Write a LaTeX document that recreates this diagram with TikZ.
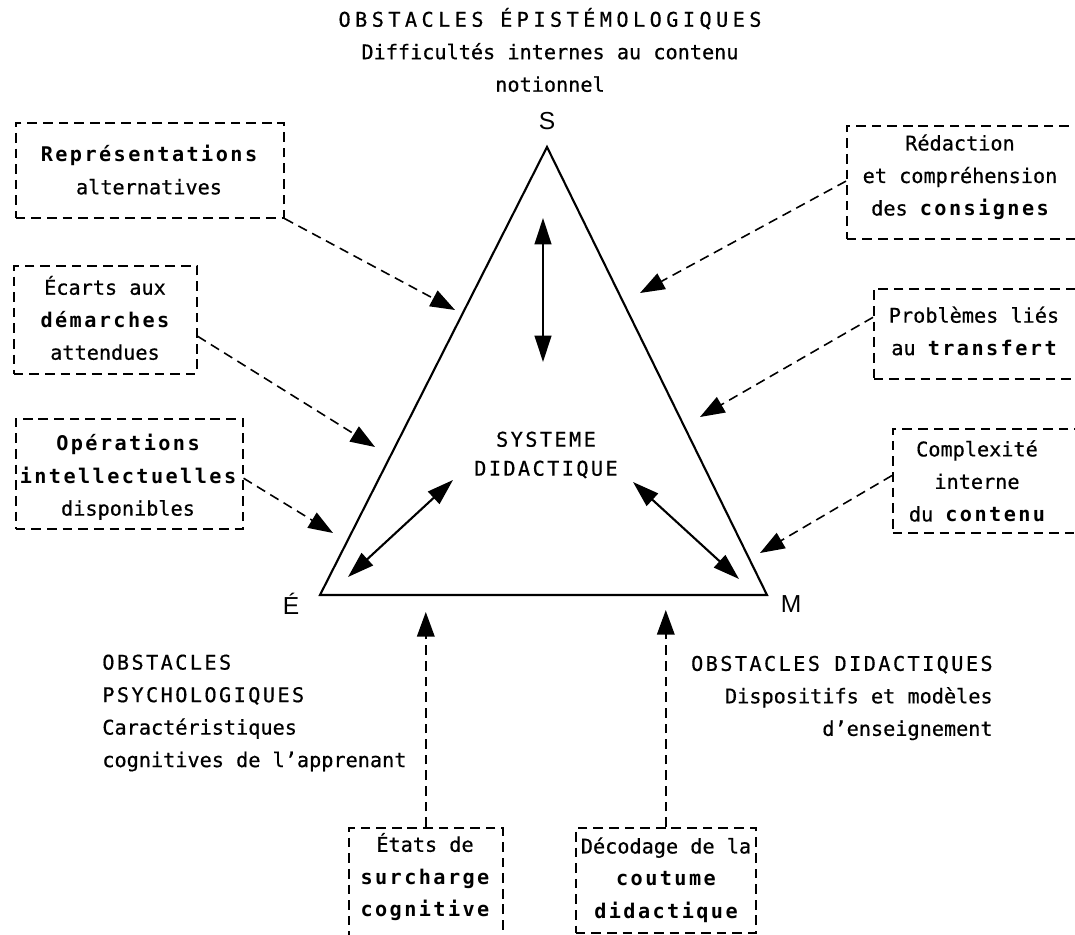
\documentclass[tikz,border=0pt]{standalone}
\usepackage{fontspec}
\usetikzlibrary{arrows.meta,calc}
\newfontfamily\mono[FakeBold=0.6]{DejaVu Sans Mono}
\newfontfamily\monocap[LetterSpace=12,FakeBold=0.6]{DejaVu Sans Mono}
\newfontfamily\monowide[LetterSpace=22,FakeBold=0.6]{DejaVu Sans Mono}
\newfontfamily\monob[LetterSpace=12]{DejaVu Sans Mono}
\newfontfamily\arialf{Liberation Sans}
\newcommand\bw[1]{{\monob\bfseries #1}}
\newcommand\cw[1]{{\monocap #1}}
\tikzset{
  dbox/.style={draw, line width=0.9pt, dash pattern=on 5.5pt off 3.4pt, inner sep=0pt, anchor=north west},
  txt/.style={align=center, inner sep=0pt, font=\mono\fontsize{11.5}{18.5}\selectfont},
  darr/.style={line width=0.9pt, dash pattern=on 5.5pt off 3.4pt, -{Triangle[length=14pt,width=10pt]}},
  sarr/.style={line width=1.2pt, {Triangle[length=15pt,width=9.5pt]}-{Triangle[length=15pt,width=9.5pt]}},
  tri/.style={line width=1.2pt, line join=miter},
  corner/.style={font=\arialf\fontsize{14}{15}\selectfont, inner sep=0pt}
}
\begin{document}
\begin{tikzpicture}[x=0.02cm,y=-0.02cm]
\fill[white] (0,0) rectangle (1075,935);
\useasboundingbox (0,0) rectangle (1075,935);

% triangle
\coordinate (S) at (547,147);
\coordinate (E) at (320,595);
\coordinate (M) at (767,595);
\draw[tri] (S) -- (E) -- (M) -- cycle;
\node[corner] (lS) at (547,121) {S};
\node[corner] (lE) at (291,604) {É};
\node[corner] (lM) at (791,604) {M};

% interior arrows
\coordinate (v1) at (543,218);
\coordinate (v2) at (543,362);
\coordinate (l1) at (453,480);
\coordinate (l2) at (348,577);
\coordinate (r1) at (633,482);
\coordinate (r2) at (739,579);
\draw[sarr] (v1) -- (v2);
\draw[sarr] (l1) -- (l2);
\draw[sarr] (r1) -- (r2);
\node[txt, font=\monocap\fontsize{11.5}{16.5}\selectfont] (sys) at (546,455) {SYSTEME\\DIDACTIQUE};

% top text
\node[txt] (top) at (550,50) {{\monowide OBSTACLES ÉPISTÉMOLOGIQUES}\\Difficultés internes au contenu\\notionnel};

% bottom texts
\node[txt, align=left, anchor=west] (psy) at (102,713) {\cw{OBSTACLES}\\\cw{PSYCHOLOGIQUES}\\Caractéristiques\\cognitives de l’apprenant};
\node[txt, align=right, anchor=east] (did) at (993,698) {\cw{OBSTACLES DIDACTIQUES}\\Dispositifs et modèles\\d’enseignement};

% boxes
\node[dbox, minimum width={268*0.02cm}, minimum height={95*0.02cm}] (b1) at (15,122) {};
\node[dbox, minimum width={183*0.02cm}, minimum height={108*0.02cm}] (b2) at (13,265) {};
\node[dbox, minimum width={227*0.02cm}, minimum height={110*0.02cm}] (b3) at (15,418) {};
\node[dbox, minimum width={250*0.02cm}, minimum height={113*0.02cm}] (b4) at (846,125) {};
\node[dbox, minimum width={220*0.02cm}, minimum height={90*0.02cm}] (b5) at (873,288) {};
\node[dbox, minimum width={200*0.02cm}, minimum height={104*0.02cm}] (b6) at (892,428) {};
\node[dbox, minimum width={154*0.02cm}, minimum height={120*0.02cm}] (b7) at (348,827) {};
\node[dbox, minimum width={180*0.02cm}, minimum height={105*0.02cm}] (b8) at (575,827) {};

\node[txt] (t1) at (149,170) {\bw{Représentations}\\alternatives};
\node[txt] (t2) at (105,318) {Écarts aux\\\bw{démarches}\\attendues};
\node[txt] (t3) at (128,477) {\bw{Opérations}\\\bw{intellectuelles}\\disponibles};
\node[txt] (t4) at (960,177) {Rédaction\\et compréhension\\des \bw{consignes}};
\node[txt] (t5) at (974,331) {Problèmes liés\\au \bw{transfert}};
\node[txt] (t6) at (977,481) {Complexité\\interne\\du \bw{contenu}};
\node[txt] (t7) at (425,877) {États de\\\bw{surcharge}\\\bw{cognitive}};
\node[txt] (t8) at (666,880) {Décodage de la\\\bw{coutume}\\\bw{didactique}};

% arrow tips
\coordinate (a1) at (455,310);
\coordinate (a2) at (375,447);
\coordinate (a3) at (333,533);
\coordinate (a4) at (640,293);
\coordinate (a5) at (700,417);
\coordinate (a6) at (760,553);
\coordinate (s7) at ($(b7.north west)!0.5!(b7.north east)$);
\coordinate (s8) at ($(b8.north west)!0.5!(b8.north east)$);
\coordinate (a7) at (s7 |- 0,612);
\coordinate (a8) at (s8 |- 0,610);

\draw[darr] (b1.south east) -- (a1);
\draw[darr] ($(b2.north east)!0.65!(b2.south east)$) -- (a2);
\draw[darr] ($(b3.north east)!0.54!(b3.south east)$) -- (a3);
\draw[darr] ($(b4.north west)!0.49!(b4.south west)$) -- (a4);
\draw[darr] ($(b5.north west)!0.32!(b5.south west)$) -- (a5);
\draw[darr] ($(b6.north west)!0.45!(b6.south west)$) -- (a6);
\draw[darr] (s7) -- (a7);
\draw[darr] (s8) -- (a8);
\end{tikzpicture}
\end{document}
